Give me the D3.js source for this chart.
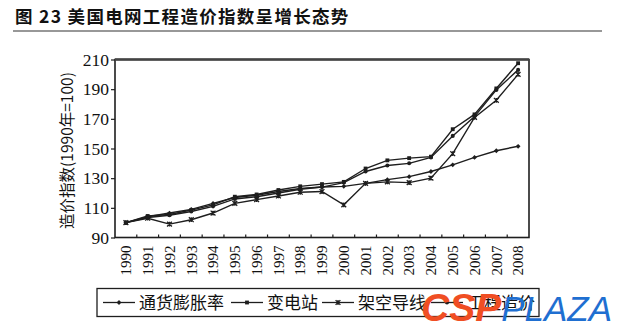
<!DOCTYPE html>
<html><head><meta charset="utf-8">
<script src="https://cdn.jsdelivr.net/npm/d3@7/dist/d3.min.js"></script>
<style>
html,body{margin:0;padding:0;background:#fff;}
svg{display:block;}
</style></head>
<body><svg id="chart" width="620" height="336"></svg>
<script>
const titleText = "图 23  美国电网工程造价指数呈增长态势";
const yAxisTitle = "造价指数(1990年=100)";
const years = ["1990","1991","1992","1993","1994","1995","1996","1997","1998","1999","2000","2001","2002","2003","2004","2005","2006","2007","2008"];
const yTicks = [90,110,130,150,170,190,210];
const seriesNames = ["通货膨胀率","变电站","架空导线","工程造价"];
const inflation   = [100,104,106.5,109,113,117,118.5,121,123,124,124.5,126.5,129,131,134.5,139,144,148.5,151.5];
const substation  = [100,104.5,105.5,108.5,112,117.5,119,122,124.5,126,127.5,136.5,142,143.5,144.5,163,173,190.5,207.5];
const overhead    = [100,103,99,102,106.5,113,115.5,118,120.5,121,112,126.5,127.5,127,130,146.5,171,182.5,200];
const composite   = [100,103.5,105,107.5,111,116,117.5,120,122.5,124,127,134.5,138.5,140,144,158.5,171.5,189.5,203];
const seriesValues = [inflation, substation, overhead, composite];
const markerTypes = ["diamond","square","star","circle"];

const svg = d3.select("#chart");
svg.append("rect").attr("width",620).attr("height",336).attr("fill","#fff");

const plot = {left:115, right:529, top:59.5, bottom:237.5};
const x = d3.scaleBand().domain(years).range([plot.left, plot.right]);
const y = d3.scaleLinear().domain([90,210]).range([plot.bottom, plot.top]);
const ink = "#1e1e1e";

// title
svg.append("text").attr("x",15).attr("y",23)
  .attr("font-family","'Noto Sans CJK SC', 'Liberation Serif', serif")
  .attr("font-weight","bold").attr("font-size",17.5).attr("letter-spacing",1.3).attr("fill","#111")
  .text(titleText);
svg.append("line").attr("x1",13).attr("x2",602).attr("y1",31).attr("y2",31)
  .attr("stroke","#333").attr("stroke-width",1.2);

// frame
svg.append("rect").attr("x",plot.left).attr("y",plot.top)
  .attr("width",plot.right-plot.left).attr("height",plot.bottom-plot.top)
  .attr("fill","none").attr("stroke",ink).attr("stroke-width",1.6);
svg.append("line").attr("x1",plot.left).attr("x2",plot.right).attr("y1",plot.top).attr("y2",plot.top)
  .attr("stroke","#444").attr("stroke-width",2.4);

// y axis
const yAxis = d3.axisLeft(y).tickValues(yTicks).tickSize(4).tickPadding(2).tickFormat(d3.format("d"));
const gy = svg.append("g").attr("transform",`translate(${plot.left},0)`).call(yAxis);
gy.select(".domain").remove();
gy.selectAll(".tick line").attr("stroke",ink).attr("stroke-width",1.2);
gy.selectAll(".tick text").attr("font-family","'Liberation Serif', serif").attr("font-size",17.5).attr("fill","#111");

// x axis: inward ticks at band boundaries
const xAxis = d3.axisBottom(x).tickSize(0).tickPadding(0);
const gx = svg.append("g").attr("transform",`translate(0,${plot.bottom})`).call(xAxis);
gx.select(".domain").remove();
gx.selectAll(".tick text")
  .attr("font-family","'Liberation Serif', serif").attr("font-size",15).attr("fill","#111")
  .attr("text-anchor","end").attr("dy","0.35em")
  .attr("transform","translate(0,8) rotate(-90)").attr("y",0).attr("x",0);
svg.append("g").selectAll("line").data(years.slice(1)).join("line")
  .attr("x1",d=>x(d)).attr("x2",d=>x(d))
  .attr("y1",plot.bottom).attr("y2",plot.bottom-3)
  .attr("stroke",ink).attr("stroke-width",1.2);

// y axis title
svg.append("text").attr("transform",`translate(73,${(plot.top+plot.bottom)/2+2}) rotate(-90)`)
  .attr("text-anchor","middle").attr("font-family","'Noto Sans CJK SC', sans-serif")
  .attr("font-size",15.5).attr("fill","#111").text(yAxisTitle);

// markers
function drawMarker(g, type, cx, cy, s){
  if(type==="diamond"){
    g.append("path").attr("d",`M${cx},${cy-s}L${cx+s},${cy}L${cx},${cy+s}L${cx-s},${cy}Z`).attr("fill",ink);
  } else if(type==="square"){
    g.append("rect").attr("x",cx-s*0.8).attr("y",cy-s*0.8).attr("width",s*1.6).attr("height",s*1.6).attr("fill",ink);
  } else if(type==="star"){
    g.append("path").attr("d",`M${cx-s},${cy-s}L${cx+s},${cy+s}M${cx-s},${cy+s}L${cx+s},${cy-s}M${cx},${cy-s}L${cx},${cy+s}`)
      .attr("stroke",ink).attr("stroke-width",1.3).attr("fill","none");
  } else {
    g.append("circle").attr("cx",cx).attr("cy",cy).attr("r",s*0.85).attr("fill",ink);
  }
}

const line = d3.line().x((d,i)=>x(years[i])+x.bandwidth()/2).y(d=>y(d));
seriesValues.forEach((vals,k)=>{
  const g = svg.append("g");
  g.append("path").datum(vals).attr("d",line).attr("fill","none")
    .attr("stroke",ink).attr("stroke-width",1.4);
  vals.forEach((v,i)=>drawMarker(g, markerTypes[k], x(years[i])+x.bandwidth()/2, y(v), 2.4));
});

// legend
const lg = svg.append("g");
lg.append("rect").attr("x",97).attr("y",288.5).attr("width",442).attr("height",28)
  .attr("fill","#fff").attr("stroke",ink).attr("stroke-width",1.3);
const legendX = [103, 231, 322, 431];
seriesNames.forEach((name,k)=>{
  const x0 = legendX[k];
  lg.append("line").attr("x1",x0).attr("x2",x0+32).attr("y1",302.5).attr("y2",302.5)
    .attr("stroke",ink).attr("stroke-width",1.3);
  drawMarker(lg, markerTypes[k], x0+16, 302.5, 2.4);
  lg.append("text").attr("x",x0+36).attr("y",302.5).attr("dy","0.36em")
    .attr("font-family","'Noto Sans CJK SC', sans-serif").attr("font-size",17).attr("fill","#111")
    .text(name);
});

// watermark
const wm = svg.append("text").attr("x",421).attr("y",321)
  .attr("font-family","'Liberation Sans', Arial, sans-serif").attr("font-style","italic");
wm.append("tspan").attr("font-weight","bold").attr("font-size",39).attr("fill","#f04e23").text("CSP");
wm.append("tspan").attr("font-size",35).attr("fill","#1f6fd1").attr("font-weight","normal").text("PLAZA");
</script>
</body></html>
